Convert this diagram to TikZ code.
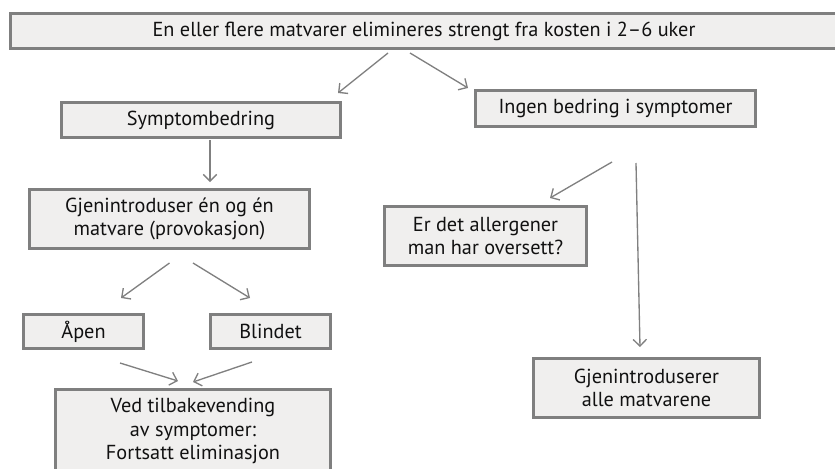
\documentclass[tikz,border=0pt]{standalone}
\usepackage{fontspec}
\setmainfont{PT Sans}
\usetikzlibrary{arrows.meta, calc}
\definecolor{boxfill}{HTML}{F0EFEE}
\definecolor{boxedge}{HTML}{7F7F7F}
\definecolor{edge}{HTML}{808080}
\definecolor{ink}{HTML}{111111}
\newdimen\pxu \pxu=0.75pt
\tikzset{
  n/.style={draw=boxedge, line width=2.25pt, fill=boxfill, text=ink, align=center, inner sep=0pt,
    font=\fontsize{15.2}{17.5}\selectfont},
  a/.style={-{Straight Barb[length=5pt, width=10pt]}, draw=edge, line width=1pt},
}

\begin{document}
\begin{tikzpicture}[x=0.75pt, y=-0.75pt]
\clip (0,0) rectangle (835,468);

% ---- left branch ----
\node[n, minimum width=827\pxu, minimum height=35\pxu] (top)    at (424, 31)    {En eller flere matvarer elimineres strengt fra kosten i 2–6 uker};
\node[n, minimum width=279\pxu, minimum height=35\pxu] (better) at (201, 120)   {Symptombedring};
\node[n, minimum width=280\pxu, minimum height=59\pxu] (reintro) at (169.5, 219) {Gjenintroduser én og én\\matvare (provokasjon)};
\node[n, minimum width=120\pxu, minimum height=34\pxu] (open)   at (83.5, 331.5) {Åpen};
\node[n, minimum width=120\pxu, minimum height=34\pxu] (blind)  at (270.5, 331.5) {Blindet};
\node[n, minimum width=275\pxu, minimum height=83\pxu] (relapse) at (193, 431)  {Ved tilbakevending\\av symptomer:\\Fortsatt eliminasjon};

% ---- right branch ----
\node[n, minimum width=280\pxu, minimum height=36\pxu] (nobetter)   at (615.5, 108.5) {Ingen bedring i symptomer};
\node[n, minimum width=202\pxu, minimum height=59\pxu] (overlooked) at (485.5, 236)   {Er det allergener\\man har oversett?};
\node[n, minimum width=226\pxu, minimum height=59\pxu] (reintroall) at (646.5, 388)   {Gjenintroduserer\\alle matvarene};

% ---- edges ----
\draw[a] ($(top.south)+(-36,3)$)      -- ($(better.north east)+(-4,-8)$);
\draw[a] ($(top.south)+(-14,3)$)      -- ($(nobetter.north west)+(-6,-1)$);
\draw[a] ($(better.south)+(9,1)$)     -- ($(reintro.north)+(40.5,-6)$);
\draw[a] ($(reintro.south)+(0,13)$)   -- ($(open.north)+(37.5,-15)$);
\draw[a] ($(reintro.south)+(23.5,13)$) -- ($(blind.north)+(-20.5,-15)$);
\draw[a] ($(open.south)+(36.5,13)$)   -- ($(relapse.north)+(-15,-7)$);
\draw[a] ($(blind.south)+(-18.5,12)$) -- ($(relapse.north)+(0,-6)$);
\draw[a] ($(nobetter.south)+(-3.5,34)$) -- ($(overlooked.north)+(64.5,-7)$);
\draw[a] ($(nobetter.south)+(20.5,35)$) -- ($(reintroall.north)+(-6.5,-10)$);
\end{tikzpicture}
\end{document}
